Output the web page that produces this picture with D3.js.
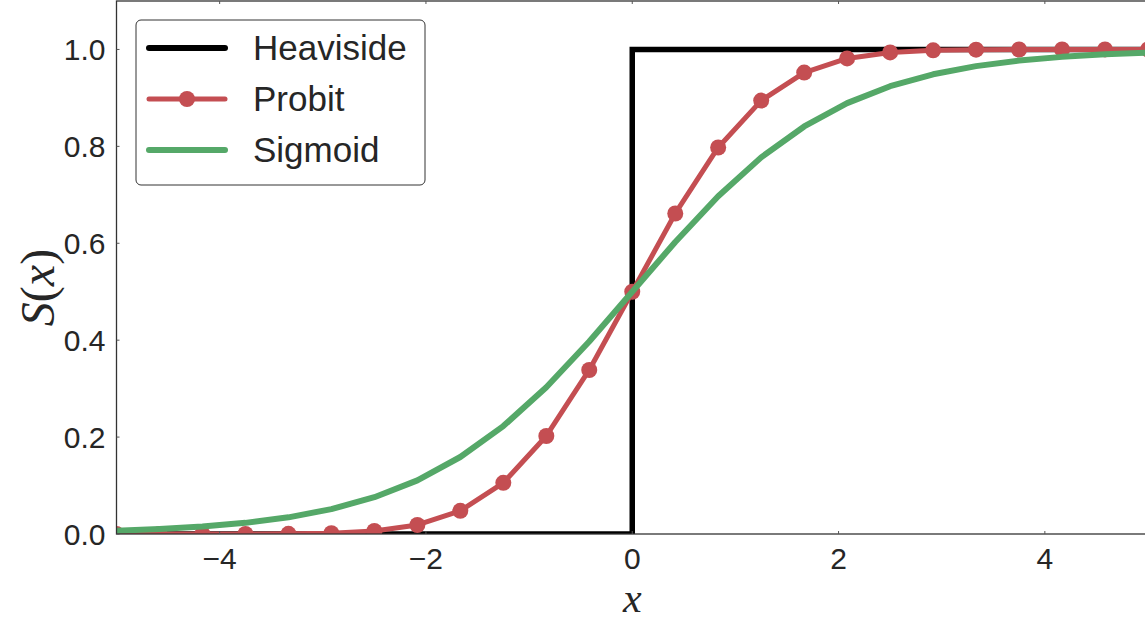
<!DOCTYPE html>
<html>
<head>
<meta charset="utf-8">
<script src="https://cdn.jsdelivr.net/npm/d3@7"></script>
<style>
  body { margin: 0; background: #fff; }
  .tick-label { font-family: "Liberation Sans", Arial, sans-serif; font-size: 30px; fill: #262626; }
  .legend-label { font-family: "Liberation Sans", Arial, sans-serif; font-size: 35px; fill: #262626; }
  .axis-title { font-family: "Liberation Serif", "DejaVu Serif", serif; fill: #262626; }
</style>
</head>
<body>
<script>
// Sample points shared by Probit and Sigmoid (25 steps, -5..5)
var xs = [-5, -4.583, -4.167, -3.75, -3.333, -2.917, -2.5, -2.083, -1.667, -1.25, -0.833, -0.417,
          0, 0.417, 0.833, 1.25, 1.667, 2.083, 2.5, 2.917, 3.333, 3.75, 4.167, 4.583, 5];
var probit = [0.0, 0.0, 0.0, 0.0001, 0.0004, 0.0018, 0.0062, 0.0186, 0.0478, 0.1056, 0.2023, 0.3385,
              0.5, 0.6615, 0.7977, 0.8944, 0.9522, 0.9814, 0.9938, 0.9982, 0.9996, 0.9999, 1.0, 1.0, 1.0];
var sigmoid = [0.0067, 0.0101, 0.0153, 0.0230, 0.0344, 0.0513, 0.0759, 0.1107, 0.1589, 0.2227, 0.3030, 0.3973,
               0.5, 0.6027, 0.6970, 0.7773, 0.8411, 0.8893, 0.9241, 0.9487, 0.9656, 0.9770, 0.9847, 0.9899, 0.9933];
// Heaviside step
var stepX = [-5, 0, 0, 5];
var stepY = [0, 0, 1, 1];

var xTicks = [-4, -2, 0, 2, 4];
var yTicks = [0, 0.2, 0.4, 0.6, 0.8, 1.0];

var seriesNames = ["Heaviside", "Probit", "Sigmoid"];
var seriesColors = ["#000000", "#c44e52", "#55a868"];

var w = 1145, h = 621;
var pLeft = 116.5, pRight = 1148, pTop = 1, pBottom = 534;

var svg = d3.select("body").append("svg")
    .attr("width", w)
    .attr("height", h);

var x = d3.scaleLinear().domain([-5, 5]).range([pLeft, pRight]);
var y = d3.scaleLinear().domain([0, 1.1]).range([pBottom, pTop]);

var line = d3.line()
    .x(function(d) { return x(d[0]); })
    .y(function(d) { return y(d[1]); });

svg.append("clipPath").attr("id", "plotclip")
  .append("rect")
    .attr("x", pLeft).attr("y", pTop)
    .attr("width", pRight - pLeft).attr("height", pBottom - pTop);

var plot = svg.append("g").attr("clip-path", "url(#plotclip)");

// Heaviside
plot.append("path")
    .datum(d3.zip(stepX, stepY))
    .attr("d", line)
    .attr("fill", "none")
    .attr("stroke", seriesColors[0])
    .attr("stroke-width", 5.5);

// Probit with markers
var probitPts = d3.zip(xs, probit);
plot.append("path")
    .datum(probitPts)
    .attr("d", line)
    .attr("fill", "none")
    .attr("stroke", seriesColors[1])
    .attr("stroke-width", 5)
    .attr("stroke-linejoin", "round");

plot.selectAll("circle.probit")
    .data(probitPts)
    .enter().append("circle")
    .attr("class", "probit")
    .attr("cx", function(d) { return x(d[0]); })
    .attr("cy", function(d) { return y(d[1]); })
    .attr("r", 8)
    .attr("fill", seriesColors[1]);

// Sigmoid
plot.append("path")
    .datum(d3.zip(xs, sigmoid))
    .attr("d", line)
    .attr("fill", "none")
    .attr("stroke", seriesColors[2])
    .attr("stroke-width", 6)
    .attr("stroke-linejoin", "round");

// Spines
svg.append("rect")
    .attr("x", pLeft).attr("y", pTop)
    .attr("width", pRight - pLeft).attr("height", pBottom - pTop)
    .attr("fill", "none")
    .attr("stroke", "#333")
    .attr("stroke-width", 1.3);

// Ticks (tiny, inward) and labels
xTicks.forEach(function(t) {
    svg.append("line")
        .attr("x1", x(t)).attr("x2", x(t))
        .attr("y1", pBottom).attr("y2", pBottom - 3)
        .attr("stroke", "#555").attr("stroke-width", 1);
    svg.append("line")
        .attr("x1", x(t)).attr("x2", x(t))
        .attr("y1", pTop).attr("y2", pTop + 3)
        .attr("stroke", "#555").attr("stroke-width", 1);
    svg.append("text")
        .attr("class", "tick-label")
        .attr("x", x(t))
        .attr("y", pBottom + 35)
        .attr("text-anchor", "middle")
        .text(t < 0 ? "\u2212" + Math.abs(t) : String(t));
});

yTicks.forEach(function(t) {
    svg.append("line")
        .attr("x1", pLeft).attr("x2", pLeft + 3)
        .attr("y1", y(t)).attr("y2", y(t))
        .attr("stroke", "#555").attr("stroke-width", 1);
    svg.append("text")
        .attr("class", "tick-label")
        .attr("x", pLeft - 11)
        .attr("y", y(t) + 11)
        .attr("text-anchor", "end")
        .text(t.toFixed(1));
});

// Axis titles
svg.append("text")
    .attr("class", "axis-title")
    .attr("x", x(0))
    .attr("y", 612)
    .attr("text-anchor", "middle")
    .attr("font-size", 42)
    .attr("font-style", "italic")
    .text("x");

var yt = svg.append("text")
    .attr("class", "axis-title")
    .attr("transform", "translate(54," + ((pTop + pBottom) / 2 + 20) + ") rotate(-90)")
    .attr("text-anchor", "middle")
    .attr("font-size", 48);
yt.append("tspan").attr("font-style", "italic").text("S");
yt.append("tspan").text("(");
yt.append("tspan").attr("font-style", "italic").text("x");
yt.append("tspan").text(")");

// Legend
var lg = svg.append("g");
lg.append("rect")
    .attr("x", 136).attr("y", 20)
    .attr("width", 289).attr("height", 165)
    .attr("rx", 5)
    .attr("fill", "#fff")
    .attr("fill-opacity", 0.85)
    .attr("stroke", "#333")
    .attr("stroke-width", 1);

var rows = [48, 99, 150];
seriesNames.forEach(function(name, i) {
    lg.append("line")
        .attr("x1", 149).attr("x2", 225)
        .attr("y1", rows[i]).attr("y2", rows[i])
        .attr("stroke", seriesColors[i])
        .attr("stroke-width", i === 1 ? 5 : 6)
        .attr("stroke-linecap", "round");
    if (i === 1) {
        lg.append("circle")
            .attr("cx", 187).attr("cy", rows[i])
            .attr("r", 8)
            .attr("fill", seriesColors[i]);
    }
    lg.append("text")
        .attr("class", "legend-label")
        .attr("x", 253)
        .attr("y", rows[i] + 12)
        .text(name);
});
</script>
</body>
</html>
